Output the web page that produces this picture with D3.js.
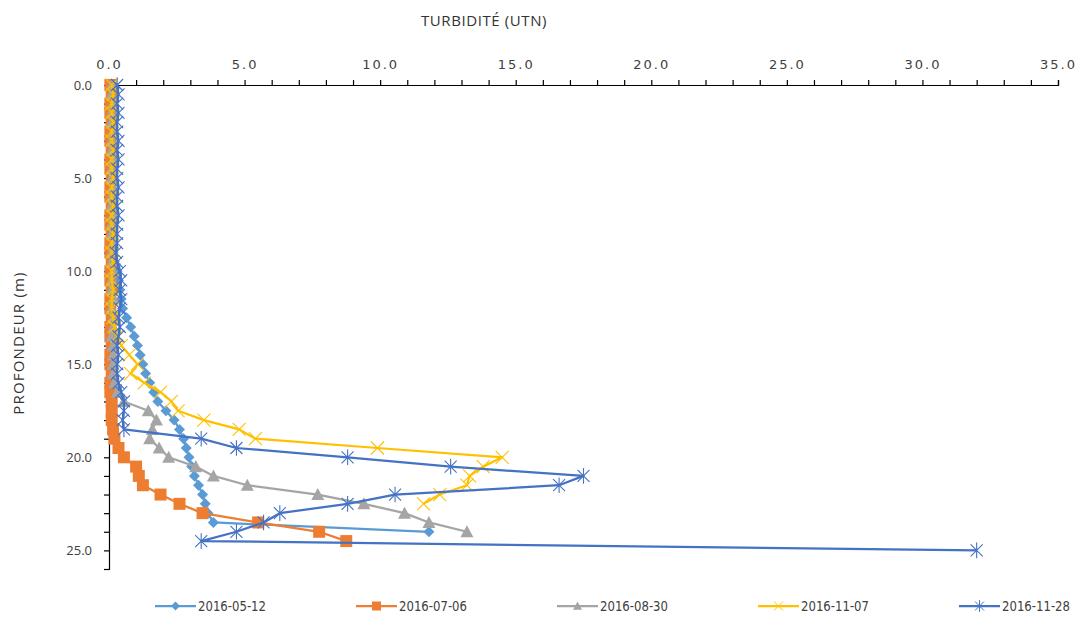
<!DOCTYPE html>
<html>
<head>
<meta charset="utf-8">
<script src="https://cdn.jsdelivr.net/npm/d3@7/dist/d3.min.js"></script>
<style>
  body { margin: 0; background: #fff; }
  svg { display: block; }
</style>
</head>
<body>
<div id="chart"></div>
<script>
// depth categories (m)
var depths = [0,0.5,1,1.5,2,2.5,3,3.5,4,4.5,5,5.5,6,6.5,7,7.5,8,8.5,9,9.5,
  10,10.5,11,11.5,12,12.5,13,13.5,14,14.5,15,15.5,16,16.5,17,17.5,18,18.5,19,19.5,
  20,20.5,21,21.5,22,22.5,23,23.5,24,24.5,25];

var seriesNames = ["2016-05-12", "2016-07-06", "2016-08-30", "2016-11-07", "2016-11-28"];

// turbidity (UTN) per depth, in depth order
var t20160512 = [0.15,0.15,0.1,0.15,0.1,0.15,0.1,0.1,0.15,0.1,0.15,0.1,0.15,0.1,0.1,0.15,0.15,0.1,0.15,0.2,
  0.3,0.35,0.4,0.45,0.5,0.65,0.8,0.93,1.05,1.15,1.25,1.35,1.5,1.65,1.8,2.1,2.4,2.6,2.75,2.85,
  2.95,3.05,3.15,3.3,3.45,3.55,3.65,3.85,11.8];
var t20160706 = [0.05,0.1,0.05,0.05,0.1,0.05,0.05,0.1,0.05,0.05,0.1,0.05,0.05,0.1,0.05,0.05,0.1,0.05,0.05,0.1,
  0.05,0.05,0.1,0.05,0.05,0.1,0.05,0.05,0.1,0.05,0.05,0.1,0.05,0.05,0.1,0.1,0.1,0.15,0.2,0.35,
  0.55,1.0,1.1,1.25,1.9,2.6,3.45,5.5,7.75,8.75];
var t20160830 = [0.1,0.1,0.15,0.1,0.1,0.15,0.1,0.1,0.15,0.1,0.1,0.15,0.1,0.1,0.15,0.1,0.1,0.15,0.1,0.1,
  0.15,0.1,0.1,0.15,0.1,0.15,0.15,0.1,0.15,0.15,0.15,0.15,0.2,0.3,0.55,1.45,1.75,1.6,1.5,1.85,
  2.2,3.2,3.85,5.1,7.7,9.4,10.9,11.8,13.2];
var t20161107 = [0.1,0.15,0.1,0.1,0.15,0.1,0.1,0.15,0.1,0.1,0.15,0.1,0.1,0.15,0.1,0.1,0.15,0.1,0.1,0.15,
  0.1,0.1,0.15,0.1,0.1,0.15,0.2,0.3,0.45,0.75,1.05,0.8,1.3,1.9,2.3,2.55,3.5,4.8,5.4,9.9,
  14.5,13.8,13.3,13.2,12.2,11.6];
var t20161128 = [0.3,0.35,0.3,0.35,0.3,0.3,0.35,0.3,0.35,0.3,0.3,0.35,0.3,0.3,0.35,0.3,0.3,0.3,0.25,0.3,
  0.4,0.45,0.4,0.45,0.4,0.35,0.4,0.35,0.3,0.35,0.3,0.3,0.35,0.45,0.55,0.55,0.5,0.55,3.4,4.7,
  8.8,12.6,17.5,16.6,10.55,8.8,6.3,5.7,4.7,3.4,32.0];

var xTicks = [0, 5, 10, 15, 20, 25, 30, 35];
var yTicks = [0, 5, 10, 15, 20, 25];

var colors = ["#5B9BD5", "#ED7D31", "#A5A5A5", "#FFC000", "#4472C4"];
var markers = ["diamond", "square", "triangle", "x", "star"];

var allValues = [t20160512, t20160706, t20160830, t20161107, t20161128];
var series = seriesNames.map(function(name, i) {
  return {
    name: name, color: colors[i], marker: markers[i],
    points: allValues[i].map(function(v, j) { return { v: v, d: depths[j] }; })
  };
});

var W = 1082, H = 625;
var svg = d3.select("#chart").append("svg").attr("width", W).attr("height", H);

var x = d3.scaleLinear().domain([0, 35]).range([109, 1058]);
var y = d3.scaleLinear().domain([0, 26]).range([85, 569]);

// axes
var xAxis = d3.axisTop(x)
  .tickValues(d3.range(0, 36, 1))
  .tickSize(5).tickPadding(11)
  .tickFormat(function(d) { return xTicks.indexOf(d) >= 0 ? d.toFixed(1) : ""; });
var gx = svg.append("g").attr("transform", "translate(0," + y(0) + ")").call(xAxis);
gx.selectAll("text").attr("font-family", "DejaVu Sans, sans-serif").attr("font-size", 13)
  .attr("letter-spacing", "2px").attr("fill", "#404040");

var yAxis = d3.axisLeft(y)
  .tickValues(d3.range(0, 27, 1))
  .tickSize(5).tickPadding(12)
  .tickFormat(function(d) { return yTicks.indexOf(d) >= 0 ? d.toFixed(1) : ""; });
var gy = svg.append("g").attr("transform", "translate(" + x(0) + ",0)").call(yAxis);
gy.selectAll("text").attr("font-family", "Open Sans, sans-serif").attr("font-size", 13).attr("fill", "#404040");

svg.selectAll(".domain, .tick line").attr("stroke", "#000").attr("stroke-width", 1.2);

// titles
svg.append("text")
  .attr("x", 484).attr("y", 26)
  .attr("text-anchor", "middle")
  .attr("font-family", "Open Sans, sans-serif").attr("font-size", 15).attr("fill", "#333")
  .attr("letter-spacing", "0.6px")
  .text("TURBIDITÉ (UTN)");

svg.append("text")
  .attr("transform", "translate(24," + 343 + ") rotate(-90)")
  .attr("text-anchor", "middle")
  .attr("font-family", "Open Sans, sans-serif").attr("font-size", 15).attr("fill", "#333")
  .attr("letter-spacing", "1.2px")
  .text("PROFONDEUR (m)");

function markerPath(type, r) {
  if (type === "diamond") return "M0," + (-r) + "L" + r + ",0L0," + r + "L" + (-r) + ",0Z";
  if (type === "square") return "M" + (-r) + "," + (-r) + "h" + 2 * r + "v" + 2 * r + "h" + (-2 * r) + "Z";
  if (type === "triangle") return "M0," + (-r) + "L" + r + "," + (r * 0.85) + "L" + (-r) + "," + (r * 0.85) + "Z";
  if (type === "x") return "M" + (-r) + "," + (-r) + "L" + r + "," + r + "M" + (-r) + "," + r + "L" + r + "," + (-r);
  return "M" + (-r) + "," + (-r) + "L" + r + "," + r + "M" + (-r) + "," + r + "L" + r + "," + (-r) +
    "M0," + (-r * 1.3) + "L0," + (r * 1.3);
}

var line = d3.line()
  .x(function(p) { return x(p.v); })
  .y(function(p) { return y(p.d); });

var markerR = { diamond: 5.5, square: 6, triangle: 6.5, x: 6.5, star: 6 };

series.forEach(function(s) {
  var g = svg.append("g");
  g.append("path")
    .attr("d", line(s.points))
    .attr("fill", "none").attr("stroke", s.color).attr("stroke-width", 2.25)
    .attr("stroke-linejoin", "round");

  var open = s.marker === "x" || s.marker === "star";
  g.selectAll("path.m")
    .data(s.points)
    .enter().append("path")
      .attr("class", "m")
      .attr("transform", function(p) { return "translate(" + x(p.v) + "," + y(p.d) + ")"; })
      .attr("d", markerPath(s.marker, markerR[s.marker]))
      .attr("fill", open ? "none" : s.color)
      .attr("stroke", s.color)
      .attr("stroke-width", open ? 1.1 : 0);
});

// legend
var legend = svg.append("g").attr("transform", "translate(155,606)");
series.forEach(function(s, i) {
  var lg = legend.append("g").attr("transform", "translate(" + (i * 201) + ",0)");
  lg.append("line").attr("x1", 0).attr("x2", 41).attr("y1", 0).attr("y2", 0)
    .attr("stroke", s.color).attr("stroke-width", 2.25);
  var open = s.marker === "x" || s.marker === "star";
  lg.append("path").attr("transform", "translate(20.5,0)")
    .attr("d", markerPath(s.marker, 4.5))
    .attr("fill", open ? "none" : s.color)
    .attr("stroke", s.color).attr("stroke-width", open ? 1 : 0);
  lg.append("text").attr("x", 43).attr("y", 5)
    .attr("font-family", "DejaVu Sans Condensed, Liberation Sans Narrow, sans-serif")
    .attr("font-size", 14).attr("fill", "#404040")
    .attr("textLength", 68).attr("lengthAdjust", "spacingAndGlyphs")
    .text(s.name);
});
</script>
</body>
</html>
